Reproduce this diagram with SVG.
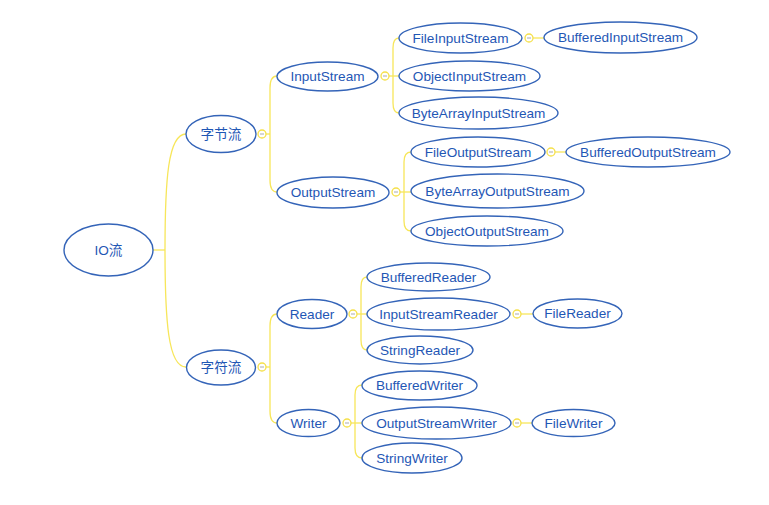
<svg xmlns="http://www.w3.org/2000/svg" width="769" height="505" viewBox="0 0 769 505">
<style>
.n ellipse{fill:#fff;stroke:#3464b8;stroke-width:1.4}
.n text{font-family:"Liberation Sans","Noto Sans CJK SC",sans-serif;font-size:13.6px;fill:#1f57b5;text-anchor:middle;dominant-baseline:central}
.c path{fill:none;stroke:#f7e65a;stroke-width:1.3}
.t circle{fill:#fff;stroke:#f5e04a;stroke-width:1.3}
.t line{stroke:#aaa;stroke-width:1}
</style>
<rect width="769" height="505" fill="#fff"/>
<g id="connectors" class="c">
<path d="M153,250 H165"/>
<path d="M165,250 C165,180 168,134 186,134"/>
<path d="M165,250 C165,320 168,367 186,367"/>
<path d="M266,134 H270"/>
<path d="M270,134 V88 Q270,76 277,76"/>
<path d="M270,134 V180 Q270,192 277,192"/>
<path d="M266,367 H270"/>
<path d="M270,367 V326 Q270,314 277,314"/>
<path d="M270,367 V411 Q270,423 277,423"/>
<path d="M389,76 H399"/>
<path d="M393,76 V48 Q393,38 399,38"/>
<path d="M393,76 V103 Q393,113 399,113"/>
<path d="M400,192 H411"/>
<path d="M404,192 V162 Q404,152 411,152"/>
<path d="M404,192 V221 Q404,231 411,231"/>
<path d="M357,314 H367"/>
<path d="M361,314 V287 Q361,277 367,277"/>
<path d="M361,314 V340 Q361,350 367,350"/>
<path d="M351,423 H362"/>
<path d="M355,423 V395 Q355,385 362,385"/>
<path d="M355,423 V448 Q355,458 362,458"/>
<path d="M533,38 H544"/>
<path d="M555,152 H566"/>
<path d="M521,314 H533"/>
<path d="M521,423 H532"/>
</g>
<g class="t">
<g id="tog-zjl"><circle cx="262" cy="134" r="4"/><line x1="260" y1="134" x2="264" y2="134"/></g>
<g id="tog-zfl"><circle cx="262" cy="367" r="4"/><line x1="260" y1="367" x2="264" y2="367"/></g>
<g id="tog-is"><circle cx="385" cy="76" r="4"/><line x1="383" y1="76" x2="387" y2="76"/></g>
<g id="tog-os"><circle cx="396" cy="192" r="4"/><line x1="394" y1="192" x2="398" y2="192"/></g>
<g id="tog-rd"><circle cx="353" cy="314" r="4"/><line x1="351" y1="314" x2="355" y2="314"/></g>
<g id="tog-wr"><circle cx="347" cy="423" r="4"/><line x1="345" y1="423" x2="349" y2="423"/></g>
<g id="tog-fis"><circle cx="529" cy="38" r="4"/><line x1="527" y1="38" x2="531" y2="38"/></g>
<g id="tog-fos"><circle cx="551" cy="152" r="4"/><line x1="549" y1="152" x2="553" y2="152"/></g>
<g id="tog-isr"><circle cx="517" cy="314" r="4"/><line x1="515" y1="314" x2="519" y2="314"/></g>
<g id="tog-osw"><circle cx="517" cy="423" r="4"/><line x1="515" y1="423" x2="519" y2="423"/></g>
</g>
<g id="io" class="n"><ellipse cx="108.5" cy="250" rx="44.5" ry="26"/><text x="108.5" y="250">IO流</text></g>
<g id="zijieliu" class="n"><ellipse cx="221" cy="134" rx="35" ry="18.5"/><text x="221" y="134">字节流</text></g>
<g id="zifuliu" class="n"><ellipse cx="221" cy="367.5" rx="34.5" ry="17.5"/><text x="221" y="367.5">字符流</text></g>
<g id="InputStream" class="n"><ellipse cx="327.5" cy="76.5" rx="50.5" ry="14.5"/><text x="327.5" y="76.5">InputStream</text></g>
<g id="FileInputStream" class="n"><ellipse cx="460.5" cy="38" rx="61.5" ry="15"/><text x="460.5" y="38">FileInputStream</text></g>
<g id="BufferedInputStream" class="n"><ellipse cx="620.5" cy="37.5" rx="76.5" ry="15.5"/><text x="620.5" y="37.5">BufferedInputStream</text></g>
<g id="ObjectInputStream" class="n"><ellipse cx="469.5" cy="76" rx="70.5" ry="15"/><text x="469.5" y="76">ObjectInputStream</text></g>
<g id="ByteArrayInputStream" class="n"><ellipse cx="478.5" cy="113" rx="79.5" ry="16"/><text x="478.5" y="113">ByteArrayInputStream</text></g>
<g id="OutputStream" class="n"><ellipse cx="333" cy="192.5" rx="56" ry="15.5"/><text x="333" y="192.5">OutputStream</text></g>
<g id="FileOutputStream" class="n"><ellipse cx="478" cy="152" rx="67" ry="15"/><text x="478" y="152">FileOutputStream</text></g>
<g id="BufferedOutputStream" class="n"><ellipse cx="648" cy="152" rx="82" ry="15"/><text x="648" y="152">BufferedOutputStream</text></g>
<g id="ByteArrayOutputStream" class="n"><ellipse cx="497.5" cy="191" rx="86.5" ry="17"/><text x="497.5" y="191">ByteArrayOutputStream</text></g>
<g id="ObjectOutputStream" class="n"><ellipse cx="487" cy="231" rx="76" ry="15"/><text x="487" y="231">ObjectOutputStream</text></g>
<g id="Reader" class="n"><ellipse cx="312" cy="314" rx="35" ry="14.5"/><text x="312" y="314">Reader</text></g>
<g id="BufferedReader" class="n"><ellipse cx="428.5" cy="277" rx="61.5" ry="14"/><text x="428.5" y="277">BufferedReader</text></g>
<g id="InputStreamReader" class="n"><ellipse cx="438.5" cy="314" rx="71.5" ry="16"/><text x="438.5" y="314">InputStreamReader</text></g>
<g id="FileReader" class="n"><ellipse cx="577.5" cy="313.5" rx="44.5" ry="14.5"/><text x="577.5" y="313.5">FileReader</text></g>
<g id="StringReader" class="n"><ellipse cx="420" cy="350" rx="53" ry="14"/><text x="420" y="350">StringReader</text></g>
<g id="Writer" class="n"><ellipse cx="308.5" cy="423" rx="31.5" ry="13.5"/><text x="308.5" y="423">Writer</text></g>
<g id="BufferedWriter" class="n"><ellipse cx="419.5" cy="385.5" rx="57.5" ry="14.5"/><text x="419.5" y="385.5">BufferedWriter</text></g>
<g id="OutputStreamWriter" class="n"><ellipse cx="436.5" cy="423" rx="74.5" ry="16"/><text x="436.5" y="423">OutputStreamWriter</text></g>
<g id="FileWriter" class="n"><ellipse cx="573.5" cy="423" rx="41.5" ry="13.5"/><text x="573.5" y="423">FileWriter</text></g>
<g id="StringWriter" class="n"><ellipse cx="412" cy="458" rx="50" ry="15"/><text x="412" y="458">StringWriter</text></g>
</svg>
